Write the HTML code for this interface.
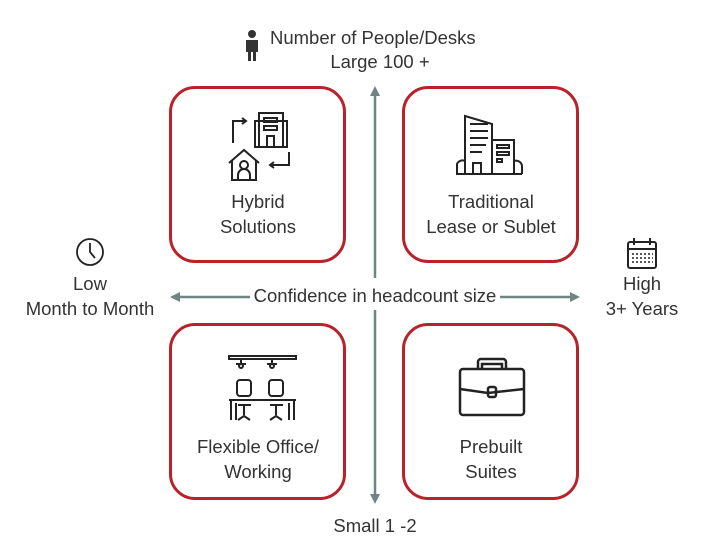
<!DOCTYPE html>
<html><head><meta charset="utf-8"><style>
body{margin:0;width:704px;height:558px;background:#fff;overflow:hidden;position:relative;font-family:"Liberation Sans",sans-serif;color:#333}
.t{position:absolute;font-size:18.5px;text-align:center;line-height:25px;white-space:nowrap}
.box{position:absolute;width:177px;height:177px;border:3px solid #b8222a;border-radius:26px;box-sizing:border-box}
</style></head><body>
<div class="box" style="left:169px;top:86px"></div>
<div class="box" style="left:402px;top:86px"></div>
<div class="box" style="left:169px;top:323px"></div>
<div class="box" style="left:402px;top:323px"></div>
<svg width="704" height="558" style="position:absolute;left:0;top:0" fill="none" stroke="#222" stroke-width="2">
 <g stroke="#6f8584" stroke-width="2.5" fill="#6f8584">
  <line x1="375" y1="94" x2="375" y2="278"/>
  <line x1="375" y1="310" x2="375" y2="496"/>
  <path d="M370 96 L375 86 L380 96Z" stroke="none"/>
  <path d="M370 494 L375 504 L380 494Z" stroke="none"/>
  <line x1="178" y1="297" x2="250" y2="297"/>
  <line x1="500" y1="297" x2="572" y2="297"/>
  <path d="M180 292 L170 297 L180 302Z" stroke="none"/>
  <path d="M570 292 L580 297 L570 302Z" stroke="none"/>
 </g>
 <g fill="#333" stroke="none"><circle cx="252" cy="34" r="4"/><path d="M246 40h12v12h-2v9h-3v-9h-2v9h-3v-9h-2z"/></g>
 <g stroke-width="2">
  <path d="M233 143v-22h12"/><path d="M242 118l4 3-4 3"/>
  <rect x="259" y="113" width="24" height="34"/><rect x="255" y="121" width="32" height="26"/>
  <rect x="264" y="118" width="13" height="4"/><rect x="264" y="126" width="13" height="4"/><rect x="267" y="136" width="7" height="11"/>
  <path d="M289 152v13h-18"/><path d="M274 162l-4 3 4 3"/>
  <path d="M229 163l15-13 15 13"/><path d="M232 160v20h24v-20"/>
  <circle cx="244" cy="165" r="4"/><path d="M238 180v-5a6 6 0 0 1 12 0v5"/>
 </g>
 <g stroke-width="2">
  <path d="M465 174v-58l27 8v50"/><path d="M470 124h18M470 131h18M470 138h18M470 145h16M470 152h12"/>
  <rect x="492" y="140" width="22" height="34"/><rect x="497" y="145" width="12" height="3"/><rect x="497" y="152" width="12" height="3"/><rect x="497" y="159" width="5" height="3"/>
  <path d="M457 174v-10a6 6 0 0 1 8 -3M514 161a6 6 0 0 1 8 6v7"/><path d="M456 174h66"/><path d="M473 174v-11h8v11"/>
 </g>
 <g stroke-width="2">
  <rect x="229" y="356" width="67" height="3"/>
  <path d="M241 359v4M272 359v4M236 364h10M267 364h10"/><circle cx="241" cy="366" r="2"/><circle cx="272" cy="366" r="2"/>
  <rect x="237" y="380" width="14" height="16" rx="3"/><rect x="269" y="380" width="14" height="16" rx="3"/>
  <path d="M229 400h67M231 400v20M294 400v20M236 403v17M289 403v17"/>
  <path d="M238 405h13M270 405h13M244 405v10M276 405v10M238 420l6-4 6 4M270 420l6-4 6 4"/>
 </g>
 <g stroke-width="2.5">
  <rect x="460" y="369" width="64" height="46" rx="3"/>
  <path d="M478 369v-7a3 3 0 0 1 3-3h22a3 3 0 0 1 3 3v7"/><path d="M482 369v-5h20v5"/>
  <path d="M460 389l28 4 36-4"/><rect x="488" y="387" width="8" height="10" rx="2"/>
 </g>
 <g stroke-width="1.8"><circle cx="90" cy="252" r="13"/><path d="M90 243v9l5 6"/></g>
 <g stroke-width="2"><rect x="628" y="242" width="28" height="26" rx="2"/><path d="M628 249h28M634 238v7M650 238v7"/>
  <g stroke-width="1.5" stroke-dasharray="2 2"><path d="M632 254h21M632 258h21M632 262h21"/></g></g>
</svg>
<div class="t" style="left:270px;top:25px">Number of People/Desks</div>
<div class="t" style="left:315px;top:49px;width:130px">Large 100 +</div>
<div class="t" style="left:169px;top:189px;width:178px">Hybrid<br>Solutions</div>
<div class="t" style="left:402px;top:189px;width:178px">Traditional<br>Lease or Sublet</div>
<div class="t" style="left:169px;top:434px;width:178px">Flexible Office/<br>Working</div>
<div class="t" style="left:402px;top:434px;width:178px">Prebuilt<br>Suites</div>
<div class="t" style="left:250px;top:283px;width:250px">Confidence in headcount size</div>
<div class="t" style="left:10px;top:271px;width:160px">Low<br>Month to Month</div>
<div class="t" style="left:592px;top:271px;width:100px">High<br>3+ Years</div>
<div class="t" style="left:310px;top:513px;width:130px">Small 1 -2</div>
</body></html>
